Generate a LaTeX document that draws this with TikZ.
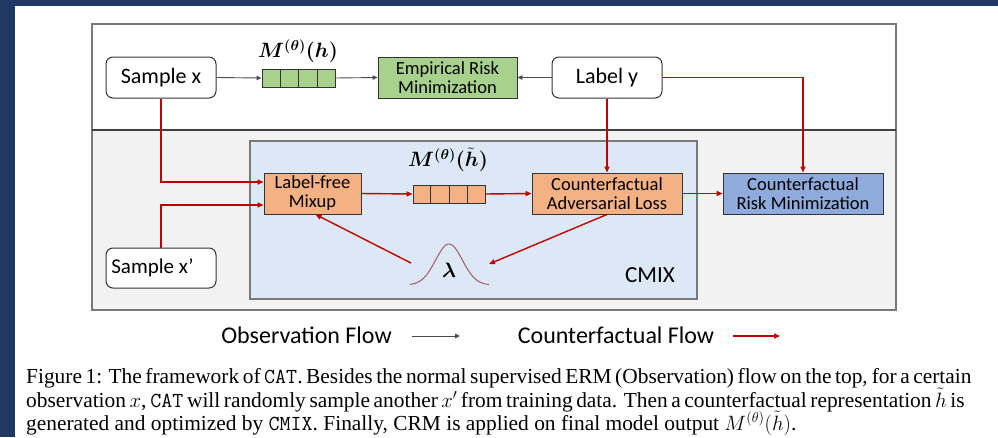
\documentclass[tikz,border=0pt]{standalone}
\usepackage{amsmath,bm}
\usepackage{fontspec}
\setmainfont{Liberation Serif}
\newfontfamily\diafont{Carlito}
\usetikzlibrary{arrows.meta,calc}
\definecolor{navy}{RGB}{31,56,100}
\definecolor{framegray}{RGB}{120,120,120}
\definecolor{lowgray}{RGB}{242,242,242}
\definecolor{cmixblue}{RGB}{220,232,245}
\definecolor{ergreen}{RGB}{169,209,142}
\definecolor{cforange}{RGB}{244,177,131}
\definecolor{crmblue}{RGB}{143,170,220}
\definecolor{flowred}{RGB}{192,0,0}
\definecolor{gausscol}{RGB}{165,90,110}
\tikzset{
  samplebox/.style={draw=black!80, line width=1pt, rounded corners=7pt, fill=white,
    minimum width=110pt, minimum height=41pt, inner sep=0pt,
    font=\diafont\fontsize{22}{24}\selectfont},
  procbox/.style={draw=black!80, line width=0.9pt, minimum height=41pt, inner sep=0pt,
    align=center, font=\diafont\fontsize{18.5}{19}\selectfont},
  stripbox/.style={draw=black!80, line width=0.9pt, minimum width=73pt, minimum height=18pt, inner sep=0pt},
  blackarr/.style={draw=black!70, line width=0.9pt, -{Triangle[length=5pt,width=4.5pt]}},
  redarr/.style={draw=flowred, line width=1.4pt, -{Triangle[length=6pt,width=5pt]}},
  mathlab/.style={font=\fontsize{20.5}{22}\selectfont},
}
\newcommand{\cells}[1]{%
  \foreach \i in {1,2,3}{\draw[black!80, line width=0.9pt]
    ($(#1.south west)!\i/4!(#1.south east)$) -- ($(#1.north west)!\i/4!(#1.north east)$);}}
\begin{document}
\begin{tikzpicture}[x=1pt,y=-1pt]
\useasboundingbox (0,0) rectangle (998,437);
\fill[navy] (0,0) rectangle (998,437);
\fill[white] (15,6) rectangle (998,437);
% frame
\fill[lowgray] (92,130) rectangle (896,310);
\draw[framegray, line width=1.5pt] (92,24) rectangle (896,310);
\draw[black!75, line width=1.2pt] (92,130) -- (896,130);
\draw[framegray, line width=1.3pt, fill=cmixblue] (250,141) rectangle (697,299);
% nodes
\node[samplebox] (sx) at (161,77.5) {Sample x};
\node[stripbox, fill=ergreen] (s1) at (298.5,78) {};
\cells{s1}
\node[mathlab] (m1) at (298,51) {$\bm{M^{(\theta)}(h)}$};
\node[procbox, fill=ergreen, minimum width=139pt] (erm) at (447.5,77.5) {Empirical Risk\\Minimization};
\node[samplebox] (ly) at (607,77.5) {Label y};
\node[procbox, fill=cforange, minimum width=97pt] (mix) at (312.5,193.5) {Label-free\\Mixup};
\node[stripbox, fill=cforange, minimum width=72pt] (s2) at (449,194) {};
\cells{s2}
\node[mathlab] (m2) at (448,160) {$\bm{M^{(\theta)}(\tilde{h})}$};
\node[procbox, fill=cforange, minimum width=150pt] (cal) at (607,193.5) {Counterfactual\\Adversarial Loss};
\node[procbox, fill=crmblue, minimum width=160pt] (crm) at (803,193.5) {Counterfactual\\Risk Minimization};
\node[samplebox, minimum height=40pt, font=\diafont\fontsize{21}{23}\selectfont] (sx2) at (161,268) {\hspace*{-17pt}Sample x’};
\node[font=\diafont\fontsize{23}{25}\selectfont] (cmix) at (650,275) {CMIX};
% gaussian
\draw[gausscol, line width=1pt] plot[domain=410:489, samples=60, smooth]
  ({\x},{285-41*exp(0-((\x-449)/19)*((\x-449)/19))});
\node[font=\fontsize{20}{22}\selectfont] (lam) at (449,270) {$\bm{\lambda}$};
\coordinate (gL) at (411,263);
\coordinate (gR) at (489,264);
% black arrows
\draw[blackarr] (sx.east) -- (s1.west);
\draw[blackarr] (s1.east) -- (erm.west);
\draw[blackarr] (ly.west) -- (erm.east);
% red arrows
\draw[redarr] (sx.south) |- ($(mix.west)+(0,-11.5)$);
\draw[redarr] (sx2.north) |- ($(mix.west)+(0,11.5)$);
\draw[redarr] (mix.east) -- (s2.west);
\draw[redarr] (s2.east) -- (cal.west);
\draw[redarr] (cal.east) -- (crm.west);
\draw[redarr] (ly.south) -- (cal.north);
\draw[redarr] (ly.east) -| (crm.north);
\draw[redarr] (cal.south) -- (gR);
\draw[redarr] (gL) -- ($(mix.south)+(3,0)$);
% legend
\node[font=\diafont\fontsize{24}{26}\selectfont] (obs) at (306.5,335) {Observation Flow};
\coordinate (oa1) at (412,336);
\coordinate (oa2) at (460,336);
\draw[blackarr] (oa1) -- (oa2);
\node[font=\diafont\fontsize{24}{26}\selectfont] (cf) at (616,335) {Counterfactual Flow};
\coordinate (ca1) at (733,336);
\coordinate (ca2) at (780,336);
\draw[redarr] (ca1) -- (ca2);
% caption
\begin{scope}[every node/.style={anchor=base west, inner sep=0pt, font=\fontsize{21.4}{23.5}\selectfont}]
\node (c1) at (26,383) {\makebox[936pt][s]{Figure 1: The framework of \texttt{CAT}. Besides the normal supervised ERM (Observation) flow on the top, for a certain}};
\node (c2) at (26,407) {\makebox[936pt][s]{observation $x$, \texttt{CAT} will randomly sample another $x'$ from training data. Then a counterfactual representation $\tilde{h}$ is}};
\node (c3) at (26,430) {generated and optimized by \texttt{CMIX}. Finally, CRM is applied on final model output $M^{(\theta)}(\tilde{h})$.};
\end{scope}
\end{tikzpicture}
\end{document}
